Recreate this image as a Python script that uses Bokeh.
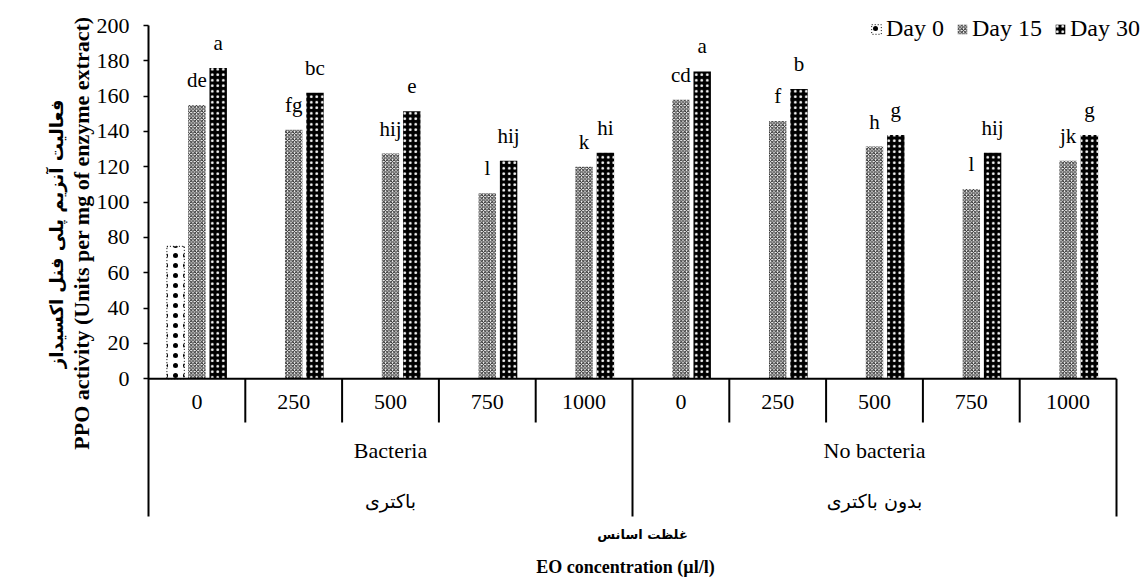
import numpy as np
from bokeh.plotting import figure
from bokeh.models import Range1d, FixedTicker, Legend, LegendItem, ColumnDataSource, Title
from bokeh.core.properties import value
from bokeh.embed import file_html
from bokeh.resources import INLINE

# ---------------- data ----------------
groups_en = ["Bacteria", "No bacteria"]
groups_fa = ["باکتری", "بدون باکتری"]
concentrations = ["0", "250", "500", "750", "1000"]
series_names = ["Day 0", "Day 15", "Day 30"]

day0 = [75, None, None, None, None, None, None, None, None, None]
day15 = [155, 141, 127.5, 105, 120, 158, 146, 131.5, 107.5, 123.5]
day30 = [176, 162, 151.5, 123.5, 128, 174, 164, 138, 128, 138]
letters15 = ["de", "fg", "hij", "l", "k", "cd", "f", "h", "l", "jk"]
letters30 = ["a", "bc", "e", "hij", "hi", "a", "b", "g", "hij", "g"]

y_ticks = list(range(0, 201, 20))
y_label_en = "PPO activity (Units per mg of enzyme extract)"
y_label_fa = "فعالیت آنزیم پلی فنل اکسیداز"
x_label_en = "EO concentration (µl/l)"
x_label_fa = "غلظت اسانس"

# ---------------- layout helpers ----------------
n_groups = len(groups_en) * len(concentrations)
conc_labels = concentrations * len(groups_en)
centers = [i + 0.5 for i in range(n_groups)]
offsets = [-0.22, 0.0, 0.22]
bar_w = 0.18

W, H = 1142, 581
PX = 1.7665            # pixels per data unit (vertical)
Y0 = 378.3             # pixel row of value 0
Y_TOP = Y0 / PX
Y_BOT = -(H - Y0) / PX
AXIS_BOT = -(516 - Y0) / PX
X_END = n_groups + 26 / 96.8

SERIF = "Liberation Serif"
FA_FONT = "DejaVu Sans"

p = figure(width=W, height=H, x_range=Range1d(0, X_END), y_range=Range1d(Y_BOT, Y_TOP),
           output_backend="svg", toolbar_location=None,
           min_border_left=148, min_border_right=0, min_border_top=0, min_border_bottom=0)
p.xaxis.visible = False
p.xgrid.visible = False
p.ygrid.visible = False
p.outline_line_color = None
p.background_fill_color = "white"
p.border_fill_color = "white"

ax = p.yaxis[0]
ax.ticker = FixedTicker(ticks=y_ticks)
ax.bounds = (AXIS_BOT, 200)
ax.major_label_text_font = SERIF
ax.major_label_text_font_size = "22px"
ax.major_label_text_color = "black"
ax.major_label_standoff = 14
ax.axis_line_color = "black"
ax.axis_line_width = 2
ax.major_tick_line_color = "black"
ax.major_tick_line_width = 1.5
ax.major_tick_in = 0
ax.major_tick_out = 5
ax.minor_tick_line_color = None

# y-axis titles (two lines: Persian outside, English inside)
p.add_layout(Title(text=y_label_en, align="right", offset=16, standoff=0,
                   text_font=SERIF, text_font_size="22px", text_font_style="bold",
                   text_color="black"), "left")
p.add_layout(Title(text=y_label_fa, align="right", offset=99, standoff=0,
                   text_font=FA_FONT, text_font_size="18px", text_font_style="bold",
                   text_color="black"), "left")

# ---------------- bars ----------------
styles = [
    dict(fill_color="white", hatch_pattern="dot", hatch_color="black", hatch_scale=10,
         hatch_weight=4, line_color="black", line_dash="1 2", line_width=1),
    dict(fill_color="white", hatch_pattern="diagonal_cross", hatch_color="#222222", hatch_scale=3.5,
         hatch_weight=1, line_color=None),
    dict(fill_color="black", hatch_pattern="dot", hatch_color="white", hatch_scale=5.5,
         hatch_weight=0.6, line_color=None),
]
series_vals = [day0, day15, day30]
renderers = []
for k, (vals, st) in enumerate(zip(series_vals, styles)):
    xs = [c + offsets[k] for c, v in zip(centers, vals) if v is not None]
    ys = [v for v in vals if v is not None]
    src = ColumnDataSource(dict(x=xs, top=ys))
    r = p.vbar(x="x", top="top", bottom=0, width=bar_w, source=src, **st)
    renderers.append(r)

# significance letters
for k, (vals, lets) in [(1, (day15, letters15)), (2, (day30, letters30))]:
    src = ColumnDataSource(dict(x=[c + offsets[k] for c in centers], y=vals, t=lets))
    p.text(x="x", y="y", text="t", source=src, text_font=value(SERIF), text_font_size="21px",
           text_align="center", text_baseline="alphabetic", y_offset=-25, text_color="black")

# ---------------- category axis (multi level) ----------------
p.segment(x0=[0], y0=[0], x1=[n_groups], y1=[0], line_color="black", line_width=2)
inner_sep = [i for i in range(1, n_groups) if i % len(concentrations) != 0]
p.segment(x0=inner_sep, y0=[0] * len(inner_sep), x1=inner_sep,
          y1=[-(422 - Y0) / PX] * len(inner_sep), line_color="black", line_width=2)
outer_sep = [i for i in range(len(concentrations), n_groups + 1, len(concentrations))]
p.segment(x0=outer_sep, y0=[0] * len(outer_sep), x1=outer_sep, y1=[AXIS_BOT] * len(outer_sep),
          line_color="black", line_width=2)

p.text(x=centers, y=[-(401 - Y0) / PX] * n_groups, text=conc_labels, text_font=value(SERIF),
       text_font_size="22px", text_align="center", text_baseline="middle", text_color="black")
gcent = [len(concentrations) * (g + 0.5) for g in range(len(groups_en))]
p.text(x=gcent, y=[-(450 - Y0) / PX] * len(gcent), text=groups_en, text_font=value(SERIF),
       text_font_size="22px", text_align="center", text_baseline="middle", text_color="black")
p.text(x=gcent, y=[-(500 - Y0) / PX] * len(gcent), text=groups_fa, text_font=value(FA_FONT),
       text_font_size="19px", text_align="center", text_baseline="middle", text_color="black")

# x-axis titles
mid = n_groups / 2
p.text(x=[mid], y=[-(534 - Y0) / PX], text=[x_label_fa], x_offset=10, text_font=value(FA_FONT),
       text_font_size="13px", text_font_style="bold", text_align="center", text_baseline="middle",
       text_color="black")
p.text(x=[mid], y=[-(566 - Y0) / PX], text=[x_label_en], x_offset=-7, text_font=value(SERIF),
       text_font_size="18px", text_font_style="bold", text_align="center", text_baseline="middle",
       text_color="black")

# ---------------- legend ----------------
legend = Legend(items=[LegendItem(label=n, renderers=[r]) for n, r in zip(series_names, renderers)],
                orientation="horizontal", location=(722, H - 42),
                label_text_font=SERIF, label_text_font_size="24px", label_text_color="black",
                glyph_width=12, glyph_height=12, label_standoff=4, spacing=12,
                padding=0, margin=0, border_line_color=None, background_fill_alpha=0)
p.add_layout(legend)

open("out.html", "w").write(file_html(p, INLINE))
